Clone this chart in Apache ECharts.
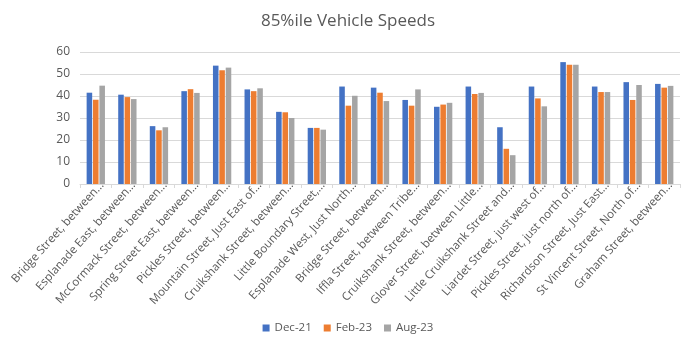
<!DOCTYPE html>
<html lang="en">
<head>
    <meta charset="UTF-8">
    <title>85%ile Vehicle Speeds</title>
    <script src="https://cdn.jsdelivr.net/npm/echarts/dist/echarts.min.js"></script>
    <style>
        html, body { margin: 0; padding: 0; background: #fff; }
        #chart { width: 696px; height: 351px; }
    </style>
</head>
<body>
<div id="chart"></div>

<script>
    // site names as shown (truncated like the original)
    const sites = [
        'Bridge Street, between...',
        'Esplanade East, between...',
        'McCormack Street, between...',
        'Spring Street East, between...',
        'Pickles Street, between...',
        'Mountain Street, Just East of...',
        'Cruikshank Street, between...',
        'Little Boundary Street,...',
        'Esplanade West, Just North...',
        'Bridge Street, between...',
        'Iffla Street, between Tribe...',
        'Cruikshank Street, between...',
        'Glover Street, between Little...',
        'Little Cruikshank Street and...',
        'Liardet Street, just west of...',
        'Pickles Street, just north of...',
        'Richardson Street, Just East...',
        'St Vincent Street, North of...',
        'Graham Street, between...'
    ];

    const dec21 = [41.5, 40.6, 26.3, 42.2, 53.8, 43.0, 32.8, 25.5, 44.3, 43.8, 38.2, 35.1, 44.3, 25.8, 44.3, 55.4, 44.3, 46.3, 45.5];
    const feb23 = [38.3, 39.5, 24.4, 43.1, 51.7, 42.2, 32.6, 25.5, 35.6, 41.5, 35.6, 36.1, 40.9, 16.0, 38.9, 54.2, 41.8, 38.2, 43.8];
    const aug23 = [44.7, 38.6, 25.8, 41.4, 52.9, 43.5, 30.0, 24.7, 40.1, 37.7, 43.0, 36.9, 41.4, 13.1, 35.3, 54.2, 41.8, 45.0, 44.6];

    const chart = echarts.init(document.getElementById('chart'));
    const textColor = '#595959';

    const option = {
        animation: false,
        color: ['#4472C4', '#ED7D31', '#A5A5A5'],
        title: {
            text: '85%ile Vehicle Speeds',
            left: 'center',
            top: 8,
            textStyle: {
                fontFamily: 'Open Sans',
                fontSize: 17,
                fontWeight: 'normal',
                color: textColor
            }
        },
        legend: {
            bottom: 12,
            left: 'center',
            itemWidth: 7,
            itemHeight: 7,
            itemGap: 12,
            icon: 'rect',
            textStyle: { fontFamily: 'Open Sans', fontSize: 11.5, color: textColor }
        },
        grid: {
            left: 80,
            right: 16,
            top: 52,
            bottom: 167
        },
        xAxis: {
            type: 'category',
            data: sites,
            axisLine: { lineStyle: { color: '#D9D9D9' } },
            axisTick: { show: true, length: 4, lineStyle: { color: '#D9D9D9' } },
            axisLabel: {
                rotate: 48,
                interval: 0,
                margin: 6,
                padding: [0, -9, 0, 0],
                fontFamily: 'Open Sans',
                fontSize: 11.5,
                color: textColor
            }
        },
        yAxis: {
            type: 'value',
            min: 0,
            max: 60,
            interval: 10,
            axisLine: { show: false },
            axisTick: { show: false },
            splitLine: { lineStyle: { color: '#D9D9D9' } },
            axisLabel: { fontFamily: 'Open Sans', fontSize: 12, color: textColor, margin: 10 }
        },
        series: [
            { name: 'Dec-21', type: 'bar', data: dec21, barGap: '15%', barCategoryGap: '42%' },
            { name: 'Feb-23', type: 'bar', data: feb23, barGap: '15%', barCategoryGap: '42%' },
            { name: 'Aug-23', type: 'bar', data: aug23, barGap: '15%', barCategoryGap: '42%' }
        ]
    };
    chart.setOption(option);
</script>
</body>
</html>
